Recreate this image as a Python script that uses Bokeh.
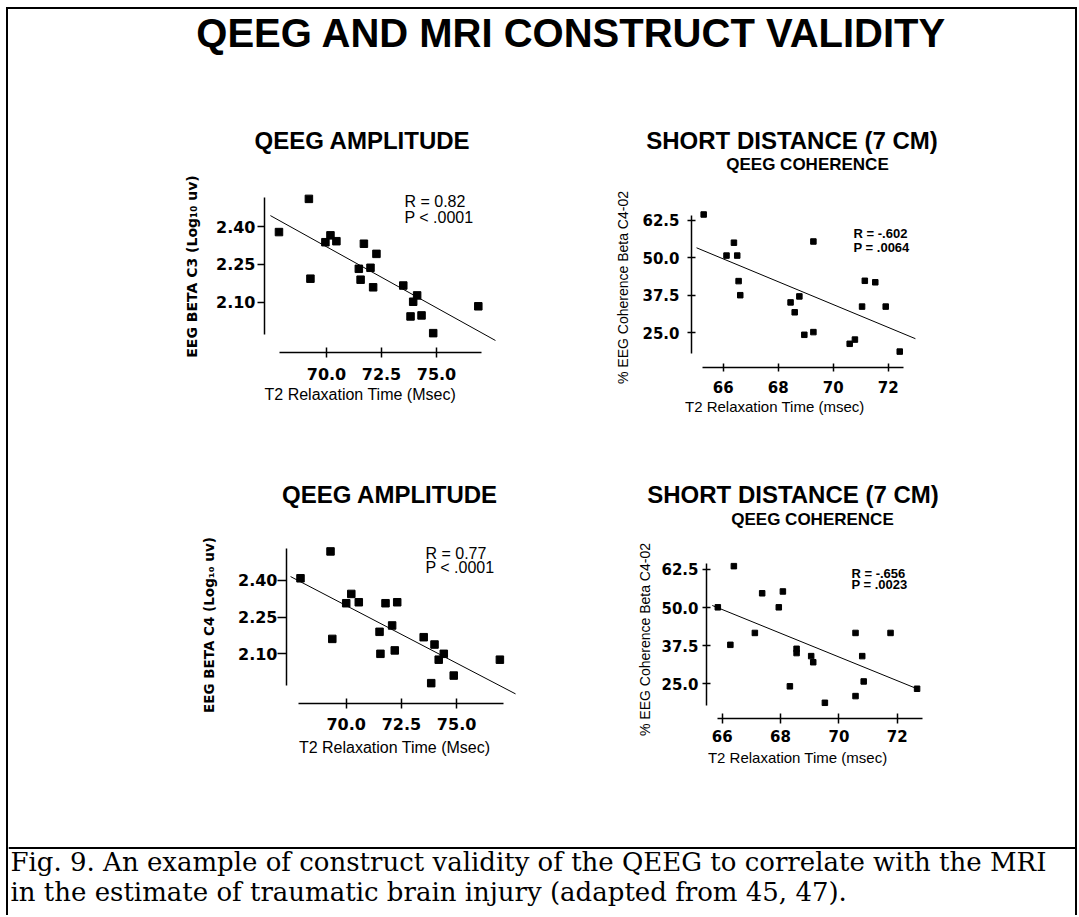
from bokeh.plotting import figure
from bokeh.layouts import column, row
from bokeh.models import Range1d, FixedTicker, PrintfTickFormatter, Label
from bokeh.core.properties import value
from bokeh.embed import file_html
from bokeh.resources import INLINE

# ---------------- data ----------------
main_title = "QEEG AND MRI CONSTRUCT VALIDITY"
amp_title = "QEEG AMPLITUDE"
coh_title = "SHORT DISTANCE (7 CM)"
coh_subtitle = "QEEG COHERENCE"
caption_lines = [
    "Fig. 9.  An example of construct validity of the QEEG to correlate with the MRI",
    "in the estimate of traumatic brain injury (adapted from 45, 47).",
]
amp_xlabel = "T2 Relaxation Time (Msec)"
coh_xlabel = "T2 Relaxation Time (msec)"
coh_ylabel = "% EEG Coherence Beta C4-02"

amp_xticks = [70.0, 72.5, 75.0]
amp_yticks = [2.10, 2.25, 2.40]
coh_xticks = [66, 68, 70, 72]
coh_yticks = [25.0, 37.5, 50.0, 62.5]

# top-left: QEEG amplitude, C3
tl_t2 = [67.84, 69.20, 69.27, 69.95, 70.18, 70.45, 71.70, 71.47, 71.55, 72.00,
         72.27, 72.12, 73.49, 74.12, 73.94, 73.82, 74.32, 74.85, 76.90]
tl_beta = [2.378, 2.509, 2.194, 2.338, 2.365, 2.342, 2.332, 2.233, 2.190, 2.237,
           2.292, 2.160, 2.167, 2.128, 2.103, 2.045, 2.049, 1.979, 2.085]
tl_fit_x = [67.45, 77.68]
tl_fit_y = [2.443, 1.950]
tl_stats = ["R = 0.82", "P < .0001"]

# top-right: coherence
tr_t2 = [65.29, 66.12, 66.39, 66.51, 66.56, 66.62, 68.45, 68.60, 68.77, 68.95,
         69.28, 69.28, 70.60, 70.79, 71.05, 71.15, 71.53, 71.91, 72.42]
tr_coh = [64.5, 50.8, 55.1, 50.8, 42.3, 37.6, 35.2, 31.9, 37.2, 24.4,
          55.5, 25.3, 21.4, 22.8, 33.8, 42.4, 41.9, 33.8, 18.8]
tr_fit_x = [65.03, 72.99]
tr_fit_y = [53.4, 23.1]
tr_stats = ["R = -.602", "P = .0064"]

# bottom-left: QEEG amplitude, C4
bl_t2 = [67.93, 69.29, 69.37, 70.00, 70.23, 70.57, 71.51, 71.55, 71.78, 72.08,
         72.20, 72.31, 73.51, 73.85, 74.00, 74.19, 74.42, 74.87, 76.96]
bl_beta = [2.409, 2.519, 2.161, 2.307, 2.345, 2.311, 2.190, 2.100, 2.307, 2.216,
           2.114, 2.311, 2.168, 1.980, 2.138, 2.076, 2.100, 2.011, 2.076]
bl_fit_x = [67.48, 77.67]
bl_fit_y = [2.416, 1.936]
bl_stats = ["R = 0.77", "P < .0001"]

# bottom-right: coherence
br_t2 = [65.85, 66.28, 66.40, 67.12, 67.37, 67.94, 68.08, 68.32, 68.55, 68.55,
         69.05, 69.12, 69.52, 70.57, 70.57, 70.80, 70.85, 71.77, 72.68]
br_coh = [50.1, 37.8, 63.6, 41.7, 54.7, 50.1, 55.3, 24.2, 36.5, 35.1,
          34.1, 32.1, 18.8, 41.7, 21.0, 34.1, 25.8, 41.7, 23.4]
br_fit_x = [65.66, 72.68]
br_fit_y = [50.7, 23.4]
br_stats = ["R = -.656", "P = .0023"]

SANS = "Liberation Sans"
WIDE = "DejaVu Sans"
SERIF = "DejaVu Serif"
NB = "\u00a0"


def text_fig(w, h, items, rule=False):
    p = figure(width=w, height=h, x_range=Range1d(0, w), y_range=Range1d(h, 0),
               x_axis_type=None, y_axis_type=None, toolbar_location=None,
               output_backend="svg", min_border=0)
    p.outline_line_color = None
    for x, y, t, font, size, style, align in items:
        p.text(x=[x], y=[y], text=[t], text_font=value(font), text_font_size=value(size),
               text_font_style=value(style), text_align=value(align),
               text_baseline=value("middle"), text_color="black")
    if rule:
        p.line(x=[0, w], y=[1.5, 1.5], line_color="black", line_width=2)
    return p


def panel(o):
    p = figure(width=o["w"], height=o["h"], x_range=Range1d(*o["xr"]), y_range=Range1d(*o["yr"]),
               toolbar_location=None, output_backend="svg",
               min_border_left=o["mb"][0], min_border_right=o["mb"][1],
               min_border_top=o["mb"][2], min_border_bottom=o["mb"][3])
    p.grid.visible = False
    p.outline_line_color = None
    p.line(o["fx"], o["fy"], line_color="black", line_width=1)
    p.scatter(o["xs"], o["ys"], marker="square", size=o["ms"], color="black")

    xa = p.xaxis[0]
    ya = p.yaxis[0]
    xa.bounds = o["xb"]
    ya.bounds = o["yb"]
    xa.ticker = FixedTicker(ticks=o["xticks"])
    ya.ticker = FixedTicker(ticks=o["yticks"])
    xa.formatter = PrintfTickFormatter(format=o["xfmt"])
    ya.formatter = PrintfTickFormatter(format=o["yfmt"])
    for ax in (xa, ya):
        ax.axis_line_color = "black"
        ax.axis_line_width = 1.5
        ax.major_tick_line_color = "black"
        ax.major_tick_line_width = 1.5
        ax.minor_tick_line_color = None
        ax.major_label_text_font = WIDE
        ax.major_label_text_font_style = "bold"
        ax.major_label_text_font_size = o["tick_size"]
        ax.major_label_text_color = "black"
        ax.axis_label_text_color = "black"
    xa.major_tick_in, xa.major_tick_out = o["xtick"]
    ya.major_tick_in, ya.major_tick_out = o["ytick"]
    xa.major_label_standoff = o["xls"]
    ya.major_label_standoff = o["yls"]

    # x label: non-breaking-space padding shifts the centred label to the left,
    # as in the reference, where it starts near the y axis
    xa.axis_label = o["xlabel"] + NB * o["xpad"]
    xa.axis_label_text_font = SANS
    xa.axis_label_text_font_style = "normal"
    xa.axis_label_text_font_size = o["xlabel_size"]
    xa.axis_label_standoff = o["xas"]

    ya.axis_label = o["ylabel"]
    ya.axis_label_text_font = o["ylabel_font"]
    ya.axis_label_text_font_style = o["ylabel_style"]
    ya.axis_label_text_font_size = o["ylabel_size"]
    ya.axis_label_standoff = o["yas"]

    nx = o["note_x"]
    for ny, nt in zip(o["note_y"], o["notes"]):
        p.add_layout(Label(x=nx, y=ny, text=nt, text_font=SANS, text_font_size=o["note_size"],
                           text_font_style=o["note_style"], text_baseline="middle",
                           text_color="black"))
    return p


# ---------------- headings (main title + top-row panel titles) ----------------
top_heads = text_fig(1067, 167, [
    (563, 23, main_title, SANS, "40px", "bold", "center"),
    (354, 130.5, amp_title, SANS, "24px", "bold", "center"),
    (783.5, 130.5, coh_title, SANS, "24px", "bold", "center"),
    (799, 155, coh_subtitle, SANS, "17px", "bold", "center"),
])

# ---------------- top row ----------------
tl = panel(dict(
    w=552, h=254, mb=(256, 60, 4, 78),
    xr=(67.182, 77.909), yr=(1.9026, 2.5816), xb=(67.86, 77.05), yb=(1.974, 2.5145),
    xs=tl_t2, ys=tl_beta, fx=tl_fit_x, fy=tl_fit_y, ms=7.5,
    xticks=amp_xticks, yticks=amp_yticks, xfmt="%.1f", yfmt="%.2f", tick_size="16px",
    xtick=(5, 5), ytick=(0, 7), xls=10, yls=2,
    xlabel=amp_xlabel, xpad=10, xlabel_size="16px", xas=3,
    ylabel="EEG BETA C3 (Log₁₀ uv)", ylabel_font=WIDE, ylabel_style="bold", ylabel_size="14px", yas=13,
    notes=tl_stats, note_x=73.545, note_y=[2.4987, 2.4356], note_size="16px", note_style="normal",
))
tr = panel(dict(
    w=515, h=254, mb=(131, 155, 31, 63),
    xr=(64.847, 73.175), yr=(13.5, 66.83), xb=(65.25, 72.55), yb=(18.2, 64.2),
    xs=tr_t2, ys=tr_coh, fx=tr_fit_x, fy=tr_fit_y, ms=5.5,
    xticks=coh_xticks, yticks=coh_yticks, xfmt="%d", yfmt="%.1f", tick_size="15px",
    xtick=(4, 4), ytick=(4, 4), xls=9, yls=8,
    xlabel=coh_xlabel, xpad=15, xlabel_size="15px", xas=2,
    ylabel=coh_ylabel, ylabel_font=SANS, ylabel_style="normal", ylabel_size="14px", yas=8,
    notes=tr_stats, note_x=70.74, note_y=[58.17, 53.5], note_size="13px", note_style="bold",
))

# ---------------- headings of the bottom row ----------------
mid_heads = text_fig(1067, 102, [
    (381.5, 63.5, amp_title, SANS, "24px", "bold", "center"),
    (784.5, 64, coh_title, SANS, "24px", "bold", "center"),
    (804, 89, coh_subtitle, SANS, "17px", "bold", "center"),
])

# ---------------- bottom row ----------------
bl = panel(dict(
    w=552, h=314, mb=(278, 40, 14, 143),
    xr=(67.296, 77.894), yr=(1.8967, 2.5391), xb=(67.85, 77.11), yb=(1.970, 2.531),
    xs=bl_t2, ys=bl_beta, fx=bl_fit_x, fy=bl_fit_y, ms=7.5,
    xticks=amp_xticks, yticks=amp_yticks, xfmt="%.1f", yfmt="%.2f", tick_size="16px",
    xtick=(5, 5), ytick=(0, 9), xls=9, yls=0,
    xlabel=amp_xlabel, xpad=4, xlabel_size="16px", xas=6,
    ylabel="EEG BETA C4 (Log₁₀ uv)", ylabel_font=WIDE, ylabel_style="bold", ylabel_size="13.5px", yas=18,
    notes=bl_stats, note_x=73.59, note_y=[2.5105, 2.4532], note_size="16px", note_style="normal",
))
br = panel(dict(
    w=515, h=314, mb=(146, 145, 28, 128),
    xr=(65.462, 73.14), yr=(13.65, 65.45), xb=(65.83, 72.87), yb=(17.9, 64.47),
    xs=br_t2, ys=br_coh, fx=br_fit_x, fy=br_fit_y, ms=5.5,
    xticks=coh_xticks, yticks=coh_yticks, xfmt="%d", yfmt="%.1f", tick_size="15px",
    xtick=(5, 5), ytick=(4, 4), xls=6, yls=4,
    xlabel=coh_xlabel, xpad=10, xlabel_size="15px", xas=4,
    ylabel=coh_ylabel, ylabel_font=SANS, ylabel_style="normal", ylabel_size="14px", yas=5,
    notes=br_stats, note_x=70.43, note_y=[61.35, 57.58], note_size="13px", note_style="bold",
))

# ---------------- caption ----------------
caption = text_fig(1067, 69, [(2, 15.5, caption_lines[0], SERIF, "26px", "normal", "left"),
                              (2, 45.5, caption_lines[1], SERIF, "26px", "normal", "left")], rule=True)

root = column(
    top_heads,
    row(column(tl), column(tr)),
    mid_heads,
    row(column(bl), column(br)),
    caption,
    styles={"margin-left": "6px", "margin-top": "7px",
            "border-top": "2px solid black", "border-left": "2px solid black",
            "border-right": "2px solid black"},
)

open("out.html", "w").write(file_html(root, INLINE))
